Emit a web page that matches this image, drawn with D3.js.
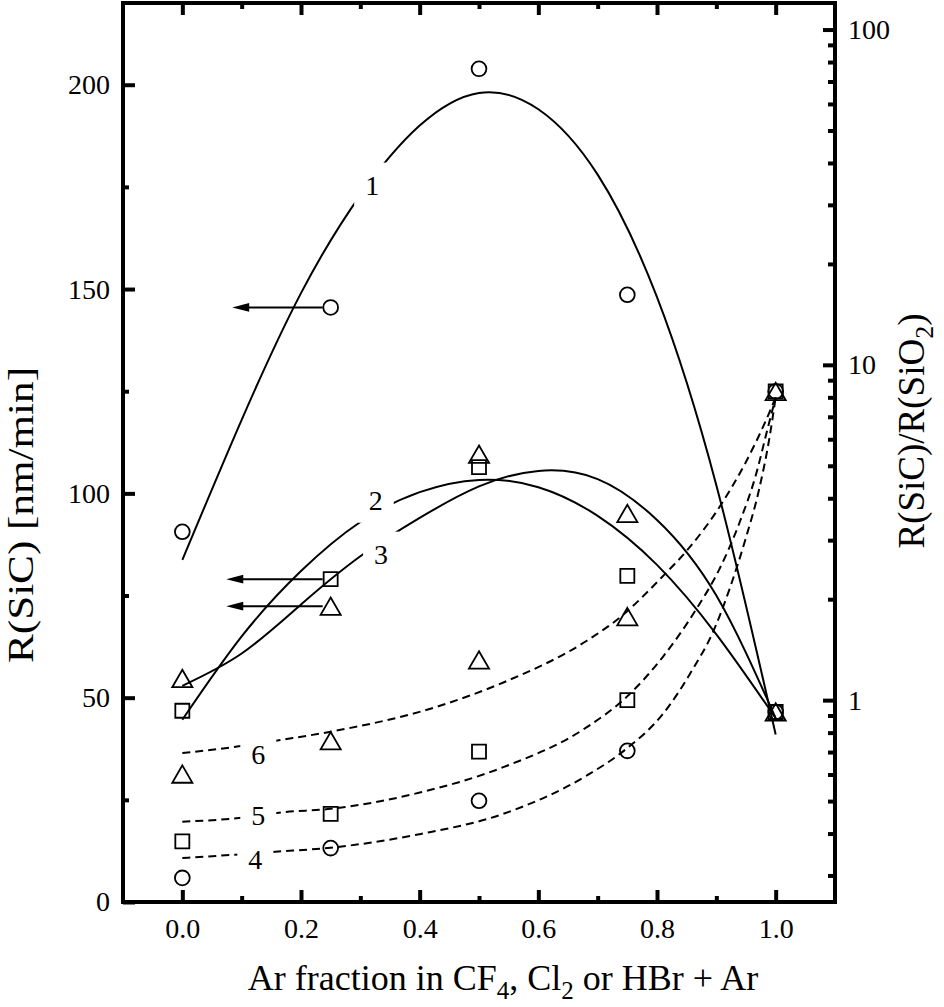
<!DOCTYPE html>
<html><head><meta charset="utf-8">
<script src="https://cdn.jsdelivr.net/npm/d3@7"></script>
<style>
html,body{margin:0;padding:0;background:#fff;}
svg{display:block;}
text{font-family:"Liberation Serif","Times New Roman",serif;fill:#000;}
</style></head><body>
<svg id="chart" width="944" height="1007"></svg>
<script>
// ---------- data ----------
const arFraction = [0, 0.25, 0.5, 0.75, 1.0];
// etch rate R(SiC), nm/min  (left axis)
const rateCF4 = [90.6, 145.5, 203.9, 148.6, 46.5];   // circles, curve 1
const rateCl2 = [46.8, 79.0, 106.4, 79.8, 46.5];     // squares, curve 2
const rateHBr = [54.7, 72.4, 109.6, 95.1, 46.5];     // triangles, curve 3
// selectivity R(SiC)/R(SiO2)  (right axis, log)
const selCF4 = [0.295, 0.362, 0.501, 0.706, 8.33];   // circles, curve 4
const selCl2 = [0.379, 0.458, 0.702, 1.0, 8.33];     // squares, curve 5
const selHBr = [0.602, 0.757, 1.318, 1.775, 8.33];   // triangles, curve 6

// fitted curves
const fitSolidX = [0, 0.1, 0.2, 0.3, 0.4, 0.5, 0.6, 0.7, 0.8, 0.9, 1.0];
const fit1Y = [83.7, 118, 149, 173, 190, 198, 194, 178, 148, 102, 41];
const fit2Y = [44.6, 65, 81, 93, 100.3, 103.3, 101.5, 94.5, 82.5, 65.5, 45];
const fit3Y = [52.9, 60.8, 72.8, 84.6, 94, 101.7, 105.5, 103.5, 93.5, 75, 45];
const fit4X = [0, 0.089, 0.157, 0.25, 0.402, 0.541, 0.681, 0.748, 0.809, 0.861, 0.894, 0.924, 0.949, 0.972, 0.989, 1.0];
const fit4Y = [0.338, 0.346, 0.353, 0.363, 0.399, 0.458, 0.595, 0.715, 0.905, 1.243, 1.591, 2.189, 3.015, 4.246, 5.981, 8.0];
const fit5X = [0, 0.095, 0.168, 0.25, 0.402, 0.541, 0.681, 0.748, 0.809, 0.866, 0.905, 0.939, 0.966, 0.986, 1.0];
const fit5Y = [0.434, 0.445, 0.463, 0.474, 0.531, 0.631, 0.829, 1.019, 1.34, 1.866, 2.455, 3.381, 4.652, 6.405, 8.0];
const fit6X = [0, 0.095, 0.168, 0.25, 0.434, 0.541, 0.681, 0.737, 0.81, 0.852, 0.908, 0.949, 0.989, 1.0];
const fit6Y = [0.695, 0.728, 0.762, 0.805, 0.962, 1.129, 1.501, 1.762, 2.344, 2.814, 3.831, 5.099, 7.182, 8.0];

// arrows (from the 0.25 point towards the left axis)
const arrowTo = [0.084, 0.074, 0.074];

// curve labels
const curveLabels = ["1", "2", "3", "4", "5", "6"];
const curveLabelX = [0.32, 0.326, 0.335, 0.123, 0.128, 0.128];
const curveLabelY = [175.5, 98.4, 85.2, 0.336, 0.453, 0.691];
const curveLabelAxis = ["L", "L", "L", "R", "R", "R"];

// ticks
const xMajor = [0, 0.2, 0.4, 0.6, 0.8, 1.0];
const xMinor = [0.1, 0.3, 0.5, 0.7, 0.9];
const yLMajor = [0, 50, 100, 150, 200];
const yLMinor = [25, 75, 125, 175];
const yRMajor = [1, 10, 100];
const yRMinor = [0.3, 0.4, 0.5, 0.6, 0.7, 0.8, 0.9, 2, 3, 4, 5, 6, 7, 8, 9, 20, 30, 40, 50, 60, 70, 80, 90];

// ---------- layout ----------
const M = {l: 123, r: 835, t: 3, b: 902};
const svg = d3.select("#chart");
const x = d3.scaleLinear().domain([-0.1, 1.1]).range([M.l, M.r]);
const yL = d3.scaleLinear().domain([0, 220]).range([M.b, M.t]);
const yR = d3.scaleLog().domain([0.25, 120]).range([M.b, M.t]);
const FONT = '"Liberation Serif","Times New Roman",serif';

function styleAxis(g, fs) {
  g.select(".domain").remove();
  g.attr("font-family", FONT).attr("font-size", fs);
  g.selectAll(".tick line").attr("stroke", "#000").attr("stroke-width", 4);
  g.selectAll(".tick text").attr("fill", "#000");
}

// bottom axis
svg.append("g").attr("transform", `translate(0,${M.b})`)
  .call(d3.axisBottom(x).tickValues(xMajor).tickSize(-12).tickPadding(16).tickFormat(d3.format(".1f")))
  .call(g => styleAxis(g, 28));
svg.append("g").attr("transform", `translate(0,${M.b})`)
  .call(d3.axisBottom(x).tickValues(xMinor).tickSize(-6).tickFormat(""))
  .call(g => styleAxis(g, 28));
// top axis
svg.append("g").attr("transform", `translate(0,${M.t})`)
  .call(d3.axisTop(x).tickValues(xMajor).tickSize(-12).tickFormat(""))
  .call(g => styleAxis(g, 28));
svg.append("g").attr("transform", `translate(0,${M.t})`)
  .call(d3.axisTop(x).tickValues(xMinor).tickSize(-6).tickFormat(""))
  .call(g => styleAxis(g, 28));
// left axis
svg.append("g").attr("transform", `translate(${M.l},0)`)
  .call(d3.axisLeft(yL).tickValues(yLMajor).tickSize(-12).tickPadding(13).tickFormat(d3.format("d")))
  .call(g => styleAxis(g, 28));
svg.append("g").attr("transform", `translate(${M.l},0)`)
  .call(d3.axisLeft(yL).tickValues(yLMinor).tickSize(-6).tickFormat(""))
  .call(g => styleAxis(g, 28));
// right axis (log)
svg.append("g").attr("transform", `translate(${M.r},0)`)
  .call(d3.axisRight(yR).tickValues(yRMajor).tickSize(-12).tickPadding(13).tickFormat(d3.format("d")))
  .call(g => styleAxis(g, 28));
svg.append("g").attr("transform", `translate(${M.r},0)`)
  .call(d3.axisRight(yR).tickValues(yRMinor).tickSize(-7).tickFormat(""))
  .call(g => styleAxis(g, 28));

// frame
svg.append("rect").attr("x", M.l).attr("y", M.t).attr("width", M.r - M.l).attr("height", M.b - M.t)
  .attr("fill", "none").attr("stroke", "#000").attr("stroke-width", 4);

// ---------- curves ----------
const plot = svg.append("g");
const fits = [
  {xs: fitSolidX, vs: fit1Y, s: yL, dash: null, c: d3.curveNatural},
  {xs: fitSolidX, vs: fit2Y, s: yL, dash: null, c: d3.curveNatural},
  {xs: fitSolidX, vs: fit3Y, s: yL, dash: null, c: d3.curveNatural},
  {xs: fit4X, vs: fit4Y, s: yR, dash: "8,5", c: d3.curveMonotoneX},
  {xs: fit5X, vs: fit5Y, s: yR, dash: "8,5", c: d3.curveMonotoneX},
  {xs: fit6X, vs: fit6Y, s: yR, dash: "8,5", c: d3.curveMonotoneX}
];
fits.forEach(f => {
  const gen = d3.line().curve(f.c).x(d => x(d[0])).y(d => f.s(d[1]));
  plot.append("path")
    .attr("d", gen(f.xs.map((v, i) => [v, f.vs[i]])))
    .attr("fill", "none").attr("stroke", "#000").attr("stroke-width", 2)
    .attr("stroke-dasharray", f.dash);
});

// curve labels with white gaps
const labG = svg.append("g");
curveLabels.forEach((t, i) => {
  const s = curveLabelAxis[i] === "L" ? yL : yR;
  const g = labG.append("g");
  const rect = g.append("rect").attr("fill", "#fff");
  const txt = g.append("text").attr("x", x(curveLabelX[i])).attr("y", s(curveLabelY[i]))
    .attr("dy", "0.35em").attr("text-anchor", "middle").attr("font-size", 28).text(t);
  const bb = txt.node().getBBox();
  const px = 11, py = 7;
  rect.attr("x", bb.x - px).attr("y", bb.y - py).attr("width", bb.width + 2 * px).attr("height", bb.height + 2 * py);
});

// ---------- arrows ----------
const arrowVals = [rateCF4[1], rateCl2[1], rateHBr[1]];
arrowVals.forEach((v, i) => {
  svg.append("line")
    .attr("x1", x(arFraction[1]) - 8).attr("y1", yL(v))
    .attr("x2", x(arrowTo[i]) + 15).attr("y2", yL(v))
    .attr("stroke", "#000").attr("stroke-width", 2);
  svg.append("path")
    .attr("d", `M${x(arrowTo[i])},${yL(v)} l17,-4.4 l0,8.8 Z`).attr("fill", "#000");
});

// ---------- markers ----------
const circ = d3.symbol().type(d3.symbolCircle).size(Math.PI * 7.4 * 7.4);
const sq = d3.symbol().type(d3.symbolSquare).size(14 * 14);
const triSize = 175;
const tri = d3.symbol().type(d3.symbolTriangle).size(triSize);
const triOff = Math.sqrt(triSize / (Math.sqrt(3) * 3)) / 2; // bbox centre on the point
const markerSets = [
  {vals: rateCF4, s: yL, sym: circ, off: 0},
  {vals: rateCl2, s: yL, sym: sq, off: 0},
  {vals: rateHBr, s: yL, sym: tri, off: triOff},
  {vals: selCF4, s: yR, sym: circ, off: 0},
  {vals: selCl2, s: yR, sym: sq, off: 0},
  {vals: selHBr, s: yR, sym: tri, off: triOff}
];
const mk = svg.append("g");
markerSets.forEach(m => {
  mk.selectAll(null).data(arFraction.map((a, i) => [a, m.vals[i]])).join("path")
    .attr("d", m.sym())
    .attr("transform", d => `translate(${x(d[0])},${m.s(d[1]) + m.off})`)
    .attr("fill", "none").attr("stroke", "#000").attr("stroke-width", 1.8);
});

// ---------- titles ----------
const xt = svg.append("text").attr("x", 503).attr("y", 990).attr("text-anchor", "middle").attr("font-size", 36);
xt.append("tspan").text("Ar fraction in CF");
xt.append("tspan").attr("font-size", 25).attr("dy", 9).text("4");
xt.append("tspan").attr("dy", -9).text(", Cl");
xt.append("tspan").attr("font-size", 25).attr("dy", 9).text("2");
xt.append("tspan").attr("dy", -9).text(" or HBr + Ar");

svg.append("text").attr("transform", "translate(33,515) rotate(-90)")
  .attr("text-anchor", "middle").attr("font-size", 36)
  .attr("textLength", 296).attr("lengthAdjust", "spacingAndGlyphs")
  .text("R(SiC) [nm/min]");

const rt = svg.append("text").attr("transform", "translate(924,431) rotate(-90)")
  .attr("text-anchor", "middle").attr("font-size", 37);
rt.append("tspan").text("R(SiC)/R(SiO");
rt.append("tspan").attr("font-size", 26).attr("dy", 9).text("2");
rt.append("tspan").attr("dy", -9).text(")");
</script>
</body></html>
